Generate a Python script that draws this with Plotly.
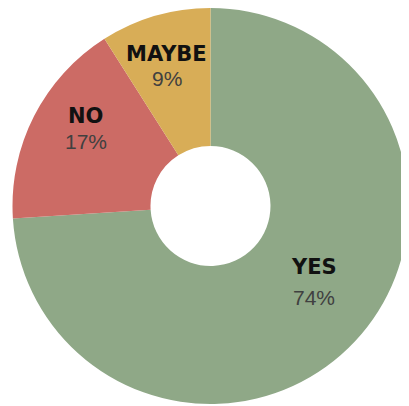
import math
import plotly.graph_objects as go

labels = ["YES", "NO", "MAYBE"]
values = [74, 17, 9]
colors = ["#8FA887", "#CC6B65", "#D8AD57"]

# text placement style (radial fraction, angle tweak in degrees, label/percent gap px)
r_frac = [0.65, 0.74, 0.74]
ang_adj = [-6.8, 4.8, -1.2]
gaps = [30, 25, 24]

W, H = 409, 406
cx, cy, R = 202.5, 198.0, 198.0

fig = go.Figure(go.Pie(
    labels=labels,
    values=values,
    sort=False,
    direction="clockwise",
    rotation=0,
    hole=0.303,
    marker=dict(colors=colors, line=dict(width=0)),
    textinfo="none",
    domain=dict(x=[(cx - R) / W, (cx + R) / W], y=[1 - (cy + R) / H, 1]),
    showlegend=False,
    hoverinfo="skip",
))

total = sum(values)
cum = 0
annotations = []
for lab, v, rf, da, g in zip(labels, values, r_frac, ang_adj, gaps):
    mid = (cum + v / 2) / total * 360 + da
    cum += v
    a = math.radians(mid)
    px = cx + rf * R * math.sin(a)
    py = cy - rf * R * math.cos(a)
    annotations.append(dict(
        x=px / W, y=1 - (py - g / 2) / H, xref="paper", yref="paper",
        text=lab, showarrow=False, xanchor="center", yanchor="middle",
        font=dict(family="DejaVu Sans, Arial Black, sans-serif", size=21, color="#111111", weight="bold"),
    ))
    annotations.append(dict(
        x=px / W, y=1 - (py + g / 2) / H, xref="paper", yref="paper",
        text=f"{round(v / total * 100)}%", showarrow=False, xanchor="center", yanchor="middle",
        font=dict(family="Liberation Sans, Arial, sans-serif", size=21, color="#404040"),
    ))

fig.update_layout(
    width=W, height=H,
    margin=dict(l=0, r=0, t=0, b=0),
    paper_bgcolor="white",
    plot_bgcolor="white",
    annotations=annotations,
)
fig.write_html("out.html")
